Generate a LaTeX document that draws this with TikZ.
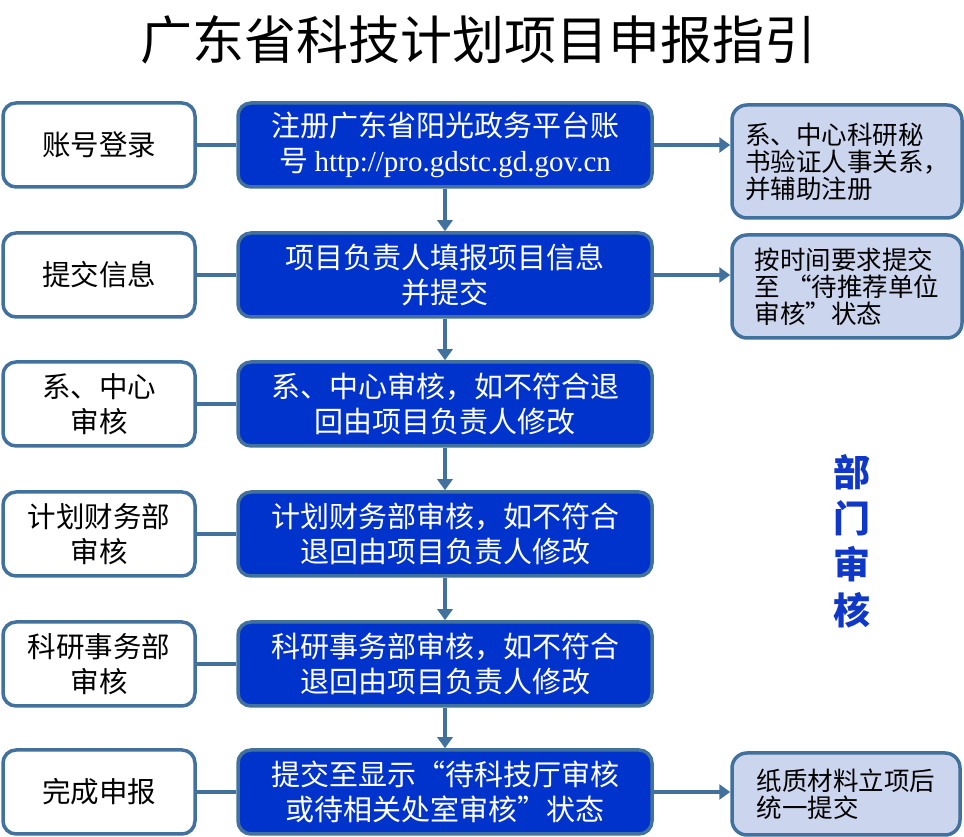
\documentclass[tikz,border=0pt]{standalone}
\usepackage{fontspec}
\setmainfont{Liberation Serif}
\newfontfamily\cjk{Noto Sans CJK SC}
\usetikzlibrary{arrows.meta}
\definecolor{linecol}{RGB}{65,113,156}
\definecolor{midfill}{RGB}{0,51,204}
\definecolor{notefill}{RGB}{204,213,238}
\definecolor{deptcol}{RGB}{16,56,200}
\tikzset{
  leftbox/.style={draw=linecol,line width=3.5bp,fill=white,rounded corners=13bp,
    minimum width=192bp,minimum height=84bp,inner sep=0pt,align=center,
    font=\cjk\fontsize{28.5bp}{35bp}\selectfont},
  midbox/.style={draw=linecol,line width=3.5bp,fill=midfill,text=white,rounded corners=13bp,
    minimum width=414bp,minimum height=84bp,inner sep=0pt,align=center,
    font=\cjk\fontsize{29bp}{35bp}\selectfont},
  notebox/.style={draw=linecol,line width=3.5bp,fill=notefill,rounded corners=15bp,
    minimum width=230bp,inner sep=0pt,align=left,
    font=\cjk\fontsize{25.5bp}{27bp}\selectfont},
  link/.style={draw=linecol,line width=3.5bp},
}
\begin{document}
\begin{tikzpicture}[>={Triangle[width=15bp,length=11bp]},line join=bevel,]
\useasboundingbox (0bp,0bp) rectangle (964bp,837bp);
%%
\node (title) at (478.0bp,797.0bp) [font=\cjk\fontsize{52bp}{52bp}\selectfont] {广东省科技计划项目申报指引};
%
  \node (left_1) at (99.0bp,692.0bp) [leftbox] {账号登录};
  \node (left_2) at (99.0bp,562.0bp) [leftbox] {提交信息};
  \node (left_3) at (99.0bp,433.0bp) [leftbox] {系、中心\\审核};
  \node (left_4) at (99.0bp,303.0bp) [leftbox] {计划财务部\\审核};
  \node (left_5) at (99.0bp,173.0bp) [leftbox] {科研事务部\\审核};
  \node (left_6) at (99.0bp,45.0bp) [leftbox] {完成申报};
%
  \node (mid_1) at (445.0bp,692.0bp) [midbox] {注册广东省阳光政务平台账\\号 {\rmfamily http://pro.gdstc.gd.gov.cn}};
  \node (mid_2) at (445.0bp,562.0bp) [midbox] {项目负责人填报项目信息\\并提交};
  \node (mid_3) at (445.0bp,433.0bp) [midbox] {系、中心审核，如不符合退\\回由项目负责人修改};
  \node (mid_4) at (445.0bp,303.0bp) [midbox] {计划财务部审核，如不符合\\退回由项目负责人修改};
  \node (mid_5) at (445.0bp,173.0bp) [midbox] {科研事务部审核，如不符合\\退回由项目负责人修改};
  \node (mid_6) at (445.0bp,45.0bp) [midbox] {提交至显示“待科技厅审核\\或待相关处室审核”状态};
%
  \node (note_1) at (847.0bp,675.5bp) [notebox,minimum height=113bp] {系、中心科研秘\\书验证人事关系，\\并辅助注册};
  \node (note_2) at (847.0bp,550.5bp) [notebox,minimum height=103bp] {按时间要求提交\\至 “待推荐单位\\审核”状态};
  \node (note_6) at (846.0bp,43.0bp) [notebox,minimum width=228bp,minimum height=82bp] {纸质材料立项后\\统一提交};
%
  \node (dept) at (852.0bp,296.0bp) [text=deptcol,align=center,font=\cjk\bfseries\fontsize{37bp}{46bp}\selectfont] {部\\门\\审\\核};
%
  \foreach \i in {1,...,6} {
    \draw [link] (left_\i) -- (mid_\i);
  }
  \foreach \i/\j in {1/2,2/3,3/4,4/5,5/6} {
    \draw [link,->] (mid_\i) -- (mid_\j);
  }
  \draw [link,->] (mid_1.east) -- (mid_1.east -| note_1.west);
  \draw [link,->] (mid_2.east) -- (mid_2.east -| note_2.west);
  \draw [link,->] (mid_6.east) -- (mid_6.east -| note_6.west);
%
\end{tikzpicture}
\end{document}
